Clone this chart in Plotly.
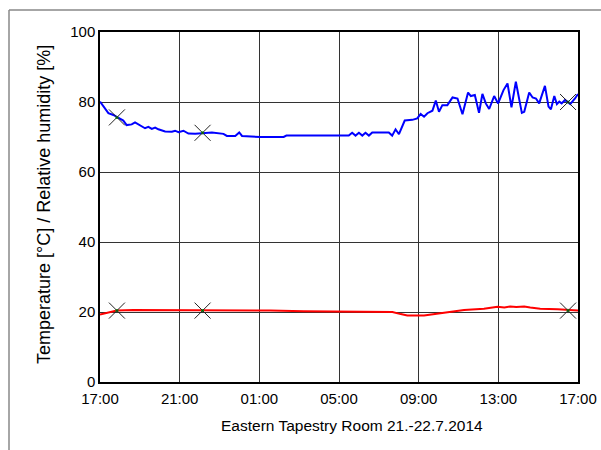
import plotly.graph_objects as go

# hours after 17:00 on 21.7.2014
rh_t = [0.0, 0.42, 0.67, 0.86, 1.17, 1.34, 1.59, 1.76, 2.10, 2.26, 2.43, 2.60, 2.77, 2.93,
        3.27, 3.61, 3.77, 3.94, 4.19, 4.44, 4.78, 5.13, 5.62, 6.20, 6.37, 6.79, 6.99, 7.13,
        8.05, 9.22, 9.36, 12.49, 12.66, 12.83, 13.0, 13.17, 13.33, 13.5, 13.67, 14.5, 14.67,
        14.84, 15.01, 15.30, 15.68, 15.93, 16.1, 16.27, 16.44, 16.69, 16.86, 17.02, 17.19,
        17.44, 17.70, 17.95, 18.2, 18.48, 18.62, 18.82, 19.03, 19.2, 19.37, 19.54, 19.79,
        19.99, 20.26, 20.46, 20.66, 20.88, 21.18, 21.30, 21.55, 21.72, 21.89, 22.05, 22.34,
        22.52, 22.64, 22.81, 22.94, 23.06, 23.18, 23.35, 23.61, 23.85, 24.0]
rh_v = [80.1, 76.8, 76.3, 75.7, 74.7, 73.4, 73.6, 74.2, 72.9, 72.5, 72.9, 72.3, 72.7, 72.2,
        71.6, 71.5, 71.8, 71.4, 71.8, 71.0, 70.9, 71.0, 71.3, 70.9, 70.3, 70.3, 71.3, 70.3,
        70.0, 70.0, 70.4, 70.4, 71.2, 70.4, 71.2, 70.4, 71.2, 70.4, 71.3, 71.3, 70.4,
        72.2, 70.8, 74.7, 74.9, 75.3, 76.6, 75.8, 76.8, 77.5, 80.4, 77.2, 79.1,
        79.1, 81.3, 81.0, 76.5, 82.7, 81.7, 82.0, 76.9, 82.3, 79.6, 78.0, 81.7,
        79.6, 83.4, 85.3, 78.5, 85.8, 76.9, 77.2, 82.7, 81.3, 81.0, 79.6, 84.6,
        78.7, 77.9, 81.7, 79.4, 80.1, 79.6, 80.6, 79.4, 81.0, 82.3]

temp_t = [0.0, 0.84, 1.68, 8.22, 8.55, 10.23, 14.68, 15.1, 15.43, 16.27, 16.94, 17.61,
          18.28, 19.28, 19.96, 20.3, 20.6, 20.9, 21.3, 21.6, 22.1, 22.98, 24.0]
temp_v = [19.3, 20.4, 20.6, 20.6, 20.4, 20.2, 20.0, 19.4, 19.0, 19.0, 19.6, 20.0,
          20.6, 20.9, 21.5, 21.3, 21.6, 21.4, 21.6, 21.3, 20.9, 20.8, 20.4]

mark_t = [0.85, 5.15, 23.5]
mark_rh = [75.6, 71.2, 80.0]
mark_temp = [20.4, 20.4, 20.4]

tick_vals = [0, 4, 8, 12, 16, 20, 24]
tick_text = ["17:00", "21:00", "01:00", "05:00", "09:00", "13:00", "17:00"]
y_ticks = [0, 20, 40, 60, 80, 100]

FONT = "Liberation Sans, Arial, sans-serif"

fig = go.Figure()
fig.add_trace(go.Scatter(x=rh_t, y=rh_v, mode="lines",
                         line=dict(color="#0000ff", width=2), showlegend=False))
fig.add_trace(go.Scatter(x=temp_t, y=temp_v, mode="lines",
                         line=dict(color="#ff0000", width=2), showlegend=False))
for ys in (mark_rh, mark_temp):
    fig.add_trace(go.Scatter(x=mark_t, y=ys, mode="markers",
                             marker=dict(symbol="circle", size=3, color="#00c000"),
                             showlegend=False))
    fig.add_trace(go.Scatter(x=mark_t, y=ys, mode="markers",
                             marker=dict(symbol="x-thin-open", size=16, color="#222222",
                                         line=dict(color="#222222", width=1)),
                             showlegend=False))

L, R, T, B = 100, 23, 32, 68
W, H = 601, 450
pw, ph = W - L - R, H - T - B

fig.update_layout(
    width=W, height=H,
    margin=dict(l=L, r=R, t=T, b=B, pad=0, autoexpand=False),
    paper_bgcolor="white", plot_bgcolor="white",
    font=dict(family=FONT, size=15, color="#000000"),
    xaxis=dict(range=[0, 24], tickvals=tick_vals, ticktext=tick_text,
               showgrid=True, gridcolor="#333333", gridwidth=1,
               showline=True, linecolor="#000000", linewidth=1.5, mirror=True,
               ticks="", zeroline=False, tickfont=dict(size=15), automargin=False,
               ticklabelstandoff=2),
    yaxis=dict(range=[0, 100], tickvals=y_ticks,
               showgrid=True, gridcolor="#333333", gridwidth=1,
               showline=True, linecolor="#000000", linewidth=1.5, mirror=True,
               ticks="", zeroline=False, tickfont=dict(size=15), automargin=False),
    annotations=[
        dict(text="Temperature [°C] / Relative humidity [%]", textangle=-90,
             xref="paper", yref="paper", x=(44 - L) / pw, y=(T + ph - 205) / ph,
             xanchor="center", yanchor="middle", showarrow=False,
             font=dict(size=18, family=FONT)),
        dict(text="Eastern Tapestry Room 21.-22.7.2014",
             xref="paper", yref="paper", x=(352 - L) / pw, y=-(425 - (T + ph)) / ph,
             xanchor="center", yanchor="middle", showarrow=False,
             font=dict(size=15.5, family=FONT)),
    ],
    shapes=[
        dict(type="line", xref="paper", yref="paper",
             x0=(9 - L) / pw, x1=(W + 5 - L) / pw,
             y0=(T + ph - 10) / ph, y1=(T + ph - 10) / ph,
             line=dict(color="#888888", width=1.5)),
        dict(type="line", xref="paper", yref="paper",
             x0=(9 - L) / pw, x1=(9 - L) / pw,
             y0=(T + ph - 10) / ph, y1=-(H + 5 - T - ph) / ph,
             line=dict(color="#888888", width=1.5)),
    ],
)

fig.write_html("out.html")
